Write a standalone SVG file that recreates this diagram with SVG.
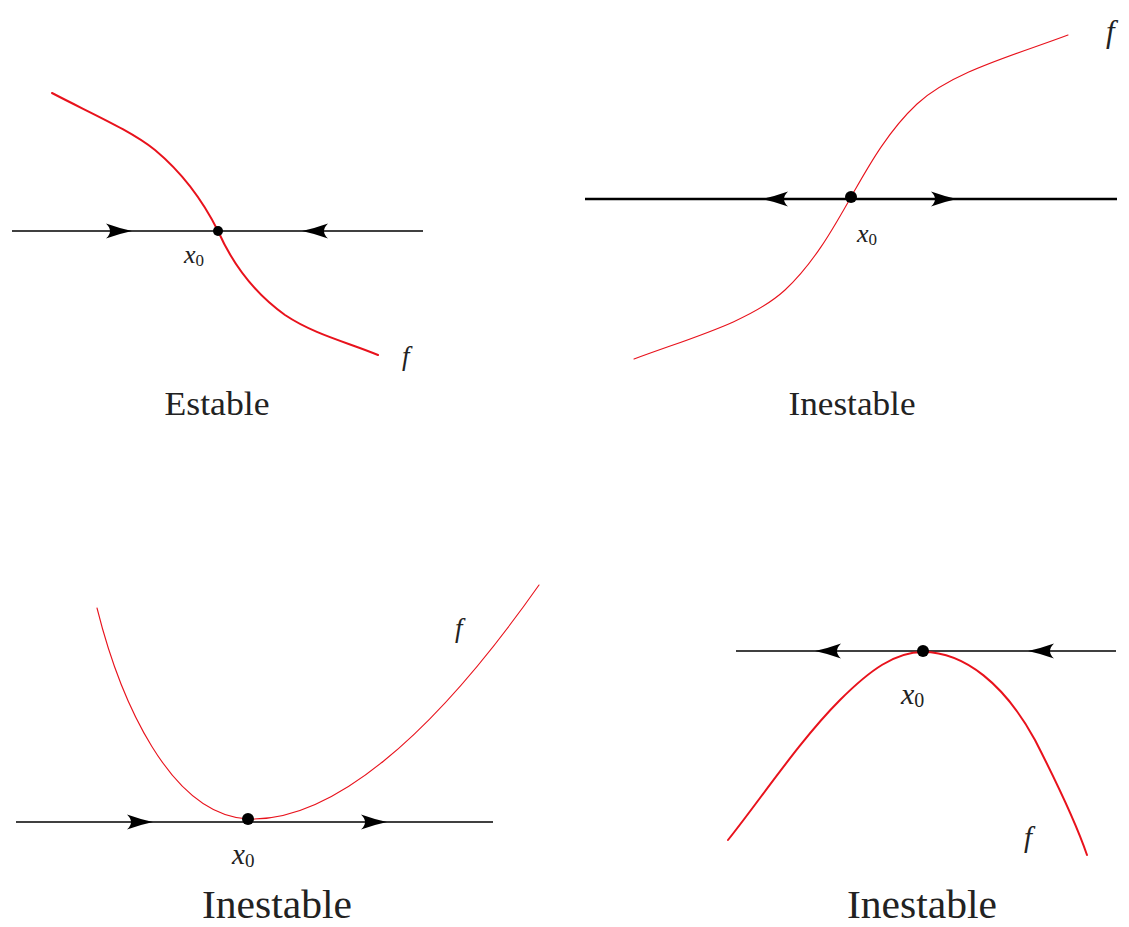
<svg xmlns="http://www.w3.org/2000/svg" width="1129" height="927" viewBox="0 0 1129 927">
<style>
.axis{stroke:#000;fill:none}
.f{fill:none;stroke:#e8121c;stroke-linecap:round}
.thin{stroke-width:1.1}
.thick{stroke-width:2}
.lbl{font-family:"Liberation Serif","Times New Roman",serif;fill:#222}
.it{font-family:"Liberation Serif","Times New Roman",serif;font-style:italic;fill:#222}
</style>
<defs>
<path id="ah" d="M0,0 Q-12,-2.5 -26,-7.5 Q-18,0 -26,7.5 Q-12,2.5 0,0 Z" fill="#000"/>
</defs>
<rect width="1129" height="927" fill="#fff"/>

<g id="panel-estable">
<line class="axis" x1="12" y1="231" x2="423" y2="231" stroke-width="1.5"/>
<use href="#ah" transform="translate(132,231)"/>
<use href="#ah" transform="translate(302,231) rotate(180)"/>
<path class="f thick" d="M52,93 C90,113 130,130 155,150 C185,175 205,205 218,231 C230,258 250,290 285,315 C315,335 350,343 378,355"/>
<circle cx="218" cy="231" r="5" fill="#000"/>
<text class="it" x="184" y="263" font-size="26">x<tspan font-style="normal" font-size="17" dy="3">0</tspan></text>
<text class="it" x="402" y="365" font-size="27">f</text>
<text class="lbl" x="217" y="415" font-size="33" text-anchor="middle" textLength="105" lengthAdjust="spacingAndGlyphs">Estable</text>
</g>

<g id="panel-inestable-1">
<line class="axis" x1="585" y1="199" x2="1117" y2="199" stroke-width="2.6"/>
<use href="#ah" transform="translate(762,199) rotate(180)"/>
<use href="#ah" transform="translate(957,199)"/>
<path class="f thin" d="M634,359 C690,338 750,322 785,290 C815,262 835,225 851,197 C867,169 887,132 917,104 C952,72 1012,56 1068,35"/>
<circle cx="851" cy="197" r="6" fill="#000"/>
<text class="it" x="857" y="242" font-size="26">x<tspan font-style="normal" font-size="17" dy="3">0</tspan></text>
<text class="it" x="1106" y="42" font-size="31">f</text>
<text class="lbl" x="852" y="415" font-size="33" text-anchor="middle" textLength="127" lengthAdjust="spacingAndGlyphs">Inestable</text>
</g>

<g id="panel-inestable-2">
<line class="axis" x1="16" y1="822" x2="493" y2="822" stroke-width="1.6"/>
<use href="#ah" transform="translate(153,822)"/>
<use href="#ah" transform="translate(387,822)"/>
<path class="f thin" d="M97,608 C120,700 170,815 248,819 C330,822 430,740 539,585"/>
<circle cx="248" cy="819" r="6" fill="#000"/>
<text class="it" x="232" y="864" font-size="29">x<tspan font-style="normal" font-size="19" dy="3">0</tspan></text>
<text class="it" x="455" y="637" font-size="27">f</text>
<text class="lbl" x="277" y="918" font-size="39" text-anchor="middle" textLength="150" lengthAdjust="spacingAndGlyphs">Inestable</text>
</g>

<g id="panel-inestable-3">
<line class="axis" x1="736" y1="651" x2="1116" y2="651" stroke-width="1.4"/>
<use href="#ah" transform="translate(815,651) rotate(180)"/>
<use href="#ah" transform="translate(1028,651) rotate(180)"/>
<path class="f thick" d="M728,840 C760,800 800,740 840,700 C870,670 895,652 923,652 C965,652 1005,685 1035,740 C1058,785 1075,820 1087,855"/>
<circle cx="923" cy="651" r="6" fill="#000"/>
<text class="it" x="901" y="704" font-size="30">x<tspan font-style="normal" font-size="20" dy="3">0</tspan></text>
<text class="it" x="1024" y="847" font-size="29">f</text>
<text class="lbl" x="922" y="918" font-size="39" text-anchor="middle" textLength="150" lengthAdjust="spacingAndGlyphs">Inestable</text>
</g>
</svg>
